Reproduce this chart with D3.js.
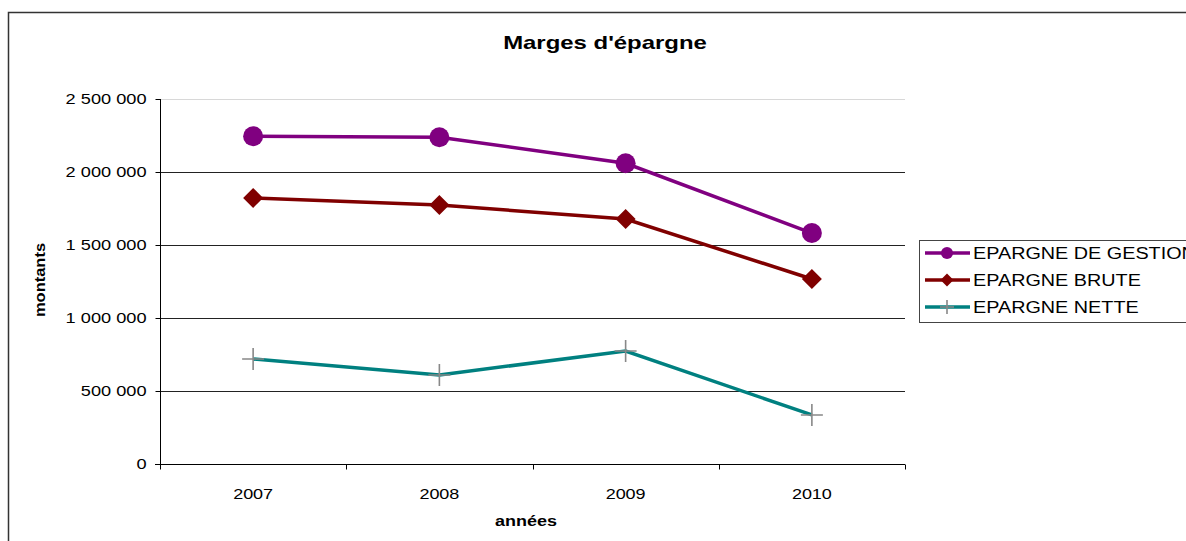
<!DOCTYPE html>
<html>
<head>
<meta charset="utf-8">
<script src="https://cdn.jsdelivr.net/npm/d3@7"></script>
<style>
  body { margin: 0; background: #fff; }
  svg { display: block; }
  text { font-family: "Liberation Sans", Arial, sans-serif; }
</style>
</head>
<body>
<div id="chart"></div>
<script>
// Data
const years = ["2007", "2008", "2009", "2010"];
const epargneGestion = [2245000, 2238000, 2060000, 1582000];
const epargneBrute = [1822000, 1774000, 1678000, 1267000];
const epargneNette = [719000, 610000, 774000, 336000];
const yTicks = [0, 500000, 1000000, 1500000, 2000000, 2500000];

const series = [
  { name: "EPARGNE DE GESTION", values: epargneGestion, color: "#800080", marker: "circle" },
  { name: "EPARGNE BRUTE", values: epargneBrute, color: "#800000", marker: "diamond" },
  { name: "EPARGNE NETTE", values: epargneNette, color: "#008080", marker: "cross" }
];

const width = 1186, height = 541;
const plot = { left: 160, right: 905, top: 99, bottom: 464 };

const svg = d3.select("#chart").append("svg")
    .attr("width", width)
    .attr("height", height);

// the original text is rendered wide, so stretch it horizontally
function label(x, y, str, size, opts = {}) {
  const sx = opts.sx || 1.2;
  return svg.append("text")
      .attr("transform", `translate(${x},${y})${opts.rotate ? " rotate(-90)" : ""} scale(${sx},1)`)
      .attr("text-anchor", opts.anchor || "middle")
      .attr("font-size", size)
      .attr("font-weight", opts.bold ? "bold" : null)
      .attr("fill", "#000")
      .text(str);
}

// Outer chart border (runs off the page to the right and bottom)
svg.append("rect")
    .attr("x", 8.5).attr("y", 12.5)
    .attr("width", width + 20).attr("height", height + 20)
    .attr("fill", "#fff")
    .attr("stroke", "#333")
    .attr("stroke-width", 1.5);

const x = d3.scaleBand()
    .domain(years)
    .range([plot.left, plot.right]);

const y = d3.scaleLinear()
    .domain([0, 2500000])
    .range([plot.bottom, plot.top]);

const fmt = v => d3.format(",")(v).replace(/,/g, " ");

// Gridlines
svg.append("g")
  .selectAll("line")
  .data(yTicks.filter(d => d > 0))
  .join("line")
    .attr("x1", plot.left).attr("x2", plot.right)
    .attr("y1", d => Math.round(y(d)) + 0.5)
    .attr("y2", d => Math.round(y(d)) + 0.5)
    .attr("stroke", d => d === 2500000 ? "#d8d8d8" : "#222")
    .attr("stroke-width", 1);

// Y axis
const tickSx = 1.3;
const yAxis = svg.append("g")
    .attr("transform", `translate(${plot.left + 0.5},0)`)
    .call(d3.axisLeft(y).tickValues(yTicks).tickFormat(fmt).tickSize(5).tickPadding(9));
yAxis.attr("font-family", null);
yAxis.select(".domain").attr("stroke", "#000").attr("d", `M0,${plot.top}V${plot.bottom + 5}`);
yAxis.selectAll(".tick line").attr("stroke", "#000");
yAxis.selectAll("text")
    .attr("font-size", 14)
    .attr("fill", "#000")
    .attr("x", -14 / tickSx)
    .attr("transform", `scale(${tickSx},1)`);

// X axis
const xAxis = svg.append("g")
    .attr("transform", `translate(0,${plot.bottom + 0.5})`);
xAxis.append("line")
    .attr("x1", plot.left - 5).attr("x2", plot.right)
    .attr("stroke", "#000");
xAxis.selectAll("line.tk")
  .data(years.concat(["end"]))
  .join("line")
    .attr("class", "tk")
    .attr("x1", (d, i) => Math.round(plot.left + i * x.step()) + 0.5)
    .attr("x2", (d, i) => Math.round(plot.left + i * x.step()) + 0.5)
    .attr("y1", 0).attr("y2", 5)
    .attr("stroke", "#000");
years.forEach(d => label(x(d) + x.bandwidth() / 2, plot.bottom + 35, d, 15, { sx: 1.2 }));

// Titles
label(605, 49, "Marges d'épargne", 18, { bold: true, sx: 1.33 });
label(526, 526, "années", 15, { bold: true, sx: 1.2 });
label(45, 280, "montants", 15, { bold: true, sx: 1.1, rotate: true });

// Markers
function drawMarker(g, type, color, size) {
  if (type === "circle") {
    g.append("circle").attr("r", size).attr("fill", color);
  } else if (type === "diamond") {
    g.append("path")
      .attr("d", `M0,${-size}L${size},0L0,${size}L${-size},0Z`)
      .attr("fill", color);
  } else {
    g.append("path")
      .attr("d", `M${-size},0H${size}M0,${-size}V${size}`)
      .attr("stroke", "#888")
      .attr("stroke-width", 1.6);
  }
}

const line = d3.line()
    .x((d, i) => x(years[i]) + x.bandwidth() / 2)
    .y(d => y(d));

series.forEach(s => {
  svg.append("path")
      .datum(s.values)
      .attr("fill", "none")
      .attr("stroke", s.color)
      .attr("stroke-width", 3.5)
      .attr("d", line);
  s.values.forEach((v, i) => {
    const g = svg.append("g")
        .attr("transform", `translate(${x(years[i]) + x.bandwidth() / 2},${y(v)})`);
    drawMarker(g, s.marker, s.color, s.marker === "circle" ? 10 : s.marker === "diamond" ? 10 : 11);
  });
});

// Legend
svg.append("rect")
    .attr("x", 919.5).attr("y", 240.5)
    .attr("width", 300).attr("height", 82)
    .attr("fill", "#fff")
    .attr("stroke", "#444")
    .attr("stroke-width", 1);

series.forEach((s, i) => {
  const ly = 253 + i * 27;
  svg.append("line")
      .attr("x1", 925).attr("x2", 970)
      .attr("y1", ly).attr("y2", ly)
      .attr("stroke", s.color)
      .attr("stroke-width", 3.5);
  const g = svg.append("g").attr("transform", `translate(947,${ly})`);
  drawMarker(g, s.marker, s.color, s.marker === "circle" ? 6 : s.marker === "diamond" ? 6.5 : 7);
  label(973, ly + 6, s.name, 16.5, { anchor: "start", sx: 1.2 });
});
</script>
</body>
</html>
